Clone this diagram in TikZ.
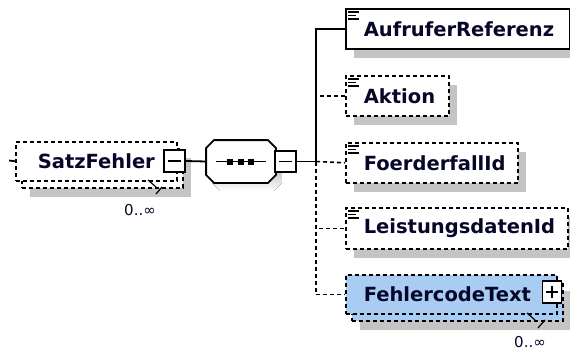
\documentclass[tikz,border=0pt]{standalone}
\usepackage{fontspec}
\setmainfont{DejaVu Sans}
\usetikzlibrary{shadows,calc}
\definecolor{ink}{RGB}{6,6,40}
\definecolor{shade}{RGB}{196,196,196}
\definecolor{cplx}{RGB}{168,204,242}
\newcommand\sicon[1]{%
  \draw[line width=1.2pt] ($(#1.north west)+(3,4)$) -- +(11,0);
  \draw[line width=1.2pt] ($(#1.north west)+(3,7.5)$) -- +(8,0);
  \draw[line width=1.2pt] ($(#1.north west)+(3,11)$) -- +(11,0);}
\newcommand\octpath[3]{% node, dx, dy
  ($(#1.north west)+(8+#2,#3)$) -- ($(#1.north east)+(-8+#2,#3)$) -- ($(#1.north east)+(#2,8+#3)$)
  -- ($(#1.south east)+(#2,-8+#3)$) -- ($(#1.south east)+(-8+#2,#3)$) -- ($(#1.south west)+(8+#2,#3)$)
  -- ($(#1.south west)+(#2,-8+#3)$) -- ($(#1.north west)+(#2,8+#3)$) -- cycle}
\begin{document}
\begin{tikzpicture}[x=1pt,y=-1pt,line width=1.8pt,
  dsh/.style={line width=1.6pt,dash pattern=on 4pt off 3pt},
  shd/.style={general shadow={shadow xshift=8pt,shadow yshift=-9pt,fill=shade}},
  ebox/.style={draw,fill=white,anchor=north west,inner sep=0pt,minimum height=40pt,
    font=\bfseries\fontsize{19.5}{22}\selectfont,text=ink,align=left},
  pmbox/.style={draw,fill=white,inner sep=0pt,line width=1.8pt},
  occ/.style={font=\fontsize{15}{18}\selectfont,text=ink}]
\useasboundingbox (0,0) rectangle (570,353);

% ---- SatzFehler (multiple) ----
\node[ebox,dsh,shd,text width=161pt,minimum height=39pt] (satzback) at (21,148) {};
\node[ebox,dsh,text width=161pt,minimum height=39pt] (satz) at (15,141) {\hspace*{22pt}SatzFehler};
\coordinate (satzin) at (9,160.5);
\draw (satzin) -- (satz.west);
\draw[line width=1.2pt] (148,180) -- (156,187);
\draw[line width=1.2pt] (162,187) -- (156,194);
\node[occ] (occsatz) at (140,210) {0..∞};
\node[pmbox,minimum width=21pt,minimum height=22pt] (smin) at (174.5,161) {};
\draw ([xshift=-6.5pt]smin.center) -- ([xshift=6.5pt]smin.center);

% ---- sequence compositor ----
\node[minimum width=68pt,minimum height=41pt,inner sep=0pt] (seq) at (241,161.5) {};
\fill[shade] \octpath{seq}{6}{8};
\draw[fill=white] \octpath{seq}{0}{0};
\draw ($(seq.west)+(10,0)$) -- ($(seq.east)+(-10,0)$);
\foreach \dx in {-11,-0.5,10}
  \fill ($(seq.center)+(\dx,0)+(-3,-3)$) rectangle ($(seq.center)+(\dx,0)+(3,3)$);
\draw (smin.east) -- (seq.west);
\node[pmbox,minimum width=21pt,minimum height=21pt] (qmin) at (285.5,161.5) {};
\draw ([xshift=-6.5pt]qmin.center) -- ([xshift=6.5pt]qmin.center);

% ---- children ----
\node[ebox,shd,text width=224pt] (aufr) at (345,8) {\hspace*{18pt}AufruferReferenz};
\sicon{aufr}
\node[ebox,dsh,shd,text width=103pt] (akt) at (345,75) {\hspace*{18pt}Aktion};
\sicon{akt}
\node[ebox,dsh,shd,text width=172pt] (foer) at (345,142) {\hspace*{18pt}FoerderfallId};
\sicon{foer}
\node[ebox,dsh,shd,text width=222pt,minimum height=41pt] (leis) at (345,207) {\hspace*{18pt}LeistungsdatenId};
\sicon{leis}

\node[ebox,dsh,shd,fill=cplx,text width=211pt,minimum height=39pt] (fehlback) at (351,281) {};
\node[ebox,dsh,fill=cplx,text width=211pt,minimum height=39pt] (fehl) at (345,274) {\hspace*{18pt}FehlercodeText};
\draw[line width=1.2pt] (527,313) -- (535,320);
\draw[line width=1.2pt] (545,320) -- (538,328);
\node[occ] (occfehl) at (530,342) {0..∞};
\node[pmbox,minimum width=19pt,minimum height=22pt] (fplus) at (552,292) {};
\draw ([xshift=-6pt]fplus.center) -- ([xshift=6pt]fplus.center);
\draw ([yshift=-6pt]fplus.center) -- ([yshift=6pt]fplus.center);

% ---- connectors ----
\coordinate (branch) at (316,161.5);
\draw (qmin.east) -- (branch);
\draw[dsh] (branch) |- (akt.west);
\draw[dsh] (branch) -- (foer.west);
\draw[dsh] (branch) |- (leis.west);
\draw[dsh] (branch) |- (fehl.west);
\draw (branch) |- (aufr.west);
\end{tikzpicture}
\end{document}
